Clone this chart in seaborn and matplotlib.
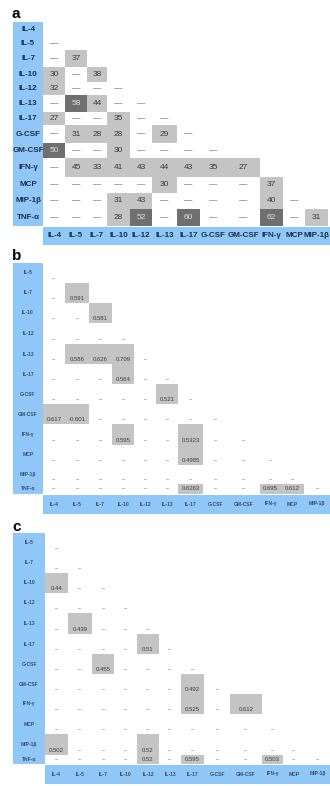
import numpy as np
import matplotlib
matplotlib.use('Agg')
import matplotlib.pyplot as plt
from matplotlib.colors import ListedColormap
from matplotlib.patches import Rectangle
import seaborn as sns

sns.set_style('white')
plt.rcParams['font.family'] = ['Liberation Sans', 'DejaVu Sans']

W, H = 330, 786

# ---- panel a : counts (None = "—") ----
a_rows = ['IL-4', 'IL-5', 'IL-7', 'IL-10', 'IL-12', 'IL-13', 'IL-17', 'G-CSF',
          'GM-CSF', 'IFN-γ', 'MCP', 'MIP-1β', 'TNF-α']
a_cols = ['IL-4', 'IL-5', 'IL-7', 'IL-10', 'IL-12', 'IL-13', 'IL-17', 'G-CSF',
          'GM-CSF', 'IFN-γ', 'MCP', 'MIP-1β']
a_values = [
    [],
    [None],
    [None, 37],
    [30, None, 38],
    [32, None, None, None],
    [None, 58, 44, None, None],
    [27, None, None, 35, None, None],
    [None, 31, 28, 28, None, 29, None],
    [50, None, None, 30, None, None, None, None],
    [None, 45, 33, 41, 43, 44, 43, 35, 27],
    [None, None, None, None, None, 30, None, None, None, 37],
    [None, None, None, 31, 43, None, None, None, None, 40, None],
    [None, None, None, 28, 52, None, 60, None, None, 62, None, 31],
]

# ---- panel b : correlations ----
b_rows = ['IL-5', 'IL-7', 'IL-10', 'IL-12', 'IL-13', 'IL-17', 'G-CSF', 'GM-CSF',
          'IFN-γ', 'MCP', 'MIP-1β', 'TNF-α']
b_cols = ['IL-4', 'IL-5', 'IL-7', 'IL-10', 'IL-12', 'IL-13', 'IL-17', 'G-CSF',
          'GM-CSF', 'IFN-γ', 'MCP', 'MIP-1β']
b_values = [
    [None],
    [None, 0.591],
    [None, None, 0.581],
    [None, None, None, None],
    [None, 0.586, 0.626, 0.709, None],
    [None, None, None, 0.564, None, None],
    [None, None, None, None, None, 0.521, None],
    [0.617, -0.601, None, None, None, None, None, None],
    [None, None, None, 0.595, None, None, 0.5323, None, None],
    [None, None, None, None, None, None, 0.4985, None, None, None],
    [None] * 11,
    [None, None, None, None, None, None, 0.6263, None, None, 0.695, 0.612, None],
]

# ---- panel c : correlations ----
c_rows = b_rows
c_cols = b_cols
c_values = [
    [None],
    [None, None],
    [0.44, None, None],
    [None, None, None, None],
    [None, 0.439, None, None, None],
    [None, None, None, None, 0.51, None],
    [None, None, 0.455, None, None, None, None],
    [None, None, None, None, None, None, 0.492, None],
    [None, None, None, None, None, None, 0.525, None, 0.612],
    [None] * 10,
    [0.502, None, None, None, 0.52, None, None, None, None, None, None],
    [None, None, None, None, 0.52, None, 0.595, None, None, 0.503, None, None],
]

BLUE = '#8fc8f8'
LIGHT = '#c4c4c4'
DARK = '#6f6f6f'


def scale_funcs(edges):
    # piecewise-linear scale so cells can have the uneven sizes of the table
    e = np.asarray(edges, float)
    k = np.arange(len(e), dtype=float)
    lo, hi = e[1] - e[0], e[-1] - e[-2]

    def fwd(v):
        v = np.asarray(v, float)
        out = np.interp(v, k, e)
        out = np.where(v < 0, e[0] + v * lo, out)
        return np.where(v > k[-1], e[-1] + (v - k[-1]) * hi, out)

    def inv(p):
        p = np.asarray(p, float)
        out = np.interp(p, e, k)
        out = np.where(p < e[0], (p - e[0]) / lo, out)
        return np.where(p > e[-1], k[-1] + (p - e[-1]) / hi, out)

    return fwd, inv


def box(fig, x0, y0, x1, y1):
    fig.add_artist(Rectangle((x0 / W, 1 - y1 / H), (x1 - x0) / W, (y1 - y0) / H,
                             transform=fig.transFigure, facecolor=BLUE,
                             edgecolor='none', zorder=-1))


def draw_panel(fig, letter, letter_y, rows, cols, values, col_edges, row_edges,
               lab_x0, band_y1, dark_from, lab_kw, val_size, dash, dash_size, low_text):
    level = np.full((len(rows), len(cols)), np.nan)
    for i, row in enumerate(values):
        for j, v in enumerate(row):
            level[i, j] = 0 if v is None else (2 if v >= dark_from else 1)

    ax = fig.add_axes([col_edges[0] / W, 1 - row_edges[-1] / H,
                       (col_edges[-1] - col_edges[0]) / W,
                       (row_edges[-1] - row_edges[0]) / H])
    ax.set_xscale('function', functions=scale_funcs(col_edges))
    ax.set_yscale('function', functions=scale_funcs(row_edges))
    sns.heatmap(level, ax=ax, cmap=ListedColormap(['white', LIGHT, DARK]),
                vmin=-0.5, vmax=2.5, cbar=False, mask=np.isnan(level),
                xticklabels=cols, yticklabels=rows)

    for i, row in enumerate(values):
        tall = (row_edges[i + 1] - row_edges[i]) >= 15
        yy = i + (0.78 if (low_text and tall) else 0.5)
        for j, v in enumerate(row):
            if v is None:
                ax.text(j + 0.5, yy, dash, ha='center', va='center',
                        fontsize=dash_size, color='#505050')
            else:
                txt = f'{v:g}'
                col = '#dedede' if v >= dark_from else '#3a3a3a'
                ax.text(j + 0.5, yy, txt, ha='center', va='center',
                        fontsize=val_size, color=col)

    # blue label column and blue label band
    box(fig, lab_x0, row_edges[0], col_edges[0], row_edges[-1])
    box(fig, col_edges[0], row_edges[-1] + 1, 330, band_y1)

    ypad = (col_edges[0] - (lab_x0 + col_edges[0]) / 2) * 0.72
    xpad = ((band_y1 - row_edges[-1]) / 2) * 0.72
    ax.tick_params(axis='y', length=0, pad=ypad)
    ax.tick_params(axis='x', length=0, pad=xpad)
    for t in ax.get_yticklabels():
        t.set_rotation(0)
        t.set_ha('center')
        t.set(**lab_kw)
    for t in ax.get_xticklabels():
        t.set_rotation(0)
        t.set_va('center')
        t.set(**lab_kw)
    for s in ax.spines.values():
        s.set_visible(False)

    fig.text(12 / W, 1 - letter_y / H, letter, fontsize=11, fontweight='bold',
             color='black', va='baseline', ha='left')
    return ax


fig = plt.figure(figsize=(3.3, 7.86), dpi=100)

draw_panel(fig, 'a', 18, a_rows, a_cols, a_values,
           [43, 65, 87, 107, 130, 152, 177, 200, 226, 260, 283, 305, 328],
           [22, 37, 50, 67, 82, 95, 112, 125, 143, 158, 177, 193, 209, 226],
           13, 245, 50,
           dict(fontsize=5.8, fontweight='bold', color='#1d2b4c'),
           6, '—', 6, False)

draw_panel(fig, 'b', 260, b_rows, b_cols, b_values,
           [43, 65, 89, 112, 134, 156, 178, 203, 228, 260, 281, 304, 330],
           [263, 283, 303, 323, 344, 364, 384, 404, 424, 445, 465, 484, 494],
           13, 514, np.inf,
           dict(fontsize=3.6, fontweight='bold', color='#3c4a68'),
           4.3, '–', 4.0, True)

draw_panel(fig, 'c', 531, c_rows, c_cols, c_values,
           [45, 68, 92, 114, 137, 159, 181, 204, 230, 262, 283, 305, 330],
           [533, 553, 573, 593, 613, 634, 654, 674, 694, 714, 734, 755, 764],
           13, 784, np.inf,
           dict(fontsize=3.6, fontweight='bold', color='#3c4a68'),
           4.3, '–', 4.0, True)

fig.savefig('out.png', dpi=100)
